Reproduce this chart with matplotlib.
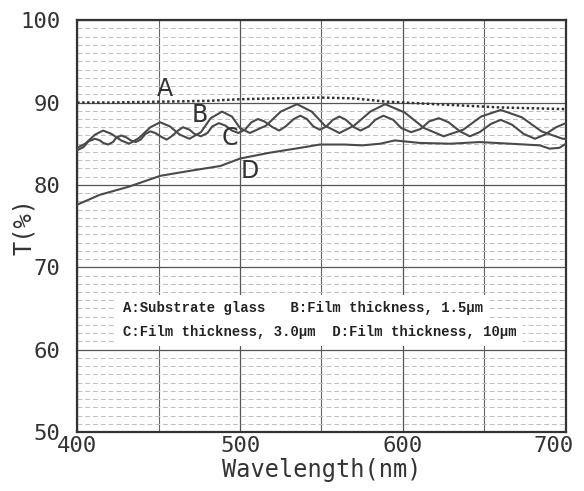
import numpy as np
import matplotlib
matplotlib.use("Agg")
import matplotlib.pyplot as plt
from matplotlib.ticker import MultipleLocator

# curve A : substrate glass (dotted)
A_wl = [400, 420, 450, 480, 500, 520, 550, 570, 590, 610, 630, 660, 700]
A_T = [90.0, 90.0, 90.1, 90.2, 90.4, 90.5, 90.6, 90.5, 90.1, 89.9, 89.7, 89.4, 89.2]

# curve B : film 1.5 um
B_wl = [400, 405, 411, 416, 421, 427, 432, 438, 445, 451, 457, 463, 469, 476, 482,
        489, 495, 500, 506, 516, 525, 535, 544, 552, 561, 570, 580, 589, 601, 613,
        625, 637, 648, 660, 673, 685, 698, 700]
B_T = [84.5, 85.0, 86.1, 86.6, 86.2, 85.4, 85.0, 85.7, 87.0, 87.6, 87.1, 86.1, 85.6,
       86.4, 88.1, 88.9, 88.3, 86.9, 86.3, 87.2, 88.9, 89.8, 88.9, 87.2, 86.3, 87.2,
       88.9, 89.8, 88.8, 86.9, 85.9, 86.7, 88.3, 89.1, 88.2, 86.5, 85.6, 85.6]

# curve C : film 3.0 um
C_wl = [400, 404, 407, 411, 414, 416, 419, 422, 424, 427, 430, 433, 436, 439, 442,
        445, 448, 452, 455, 458, 462, 465, 469, 472, 476, 480, 483, 487, 491, 495,
        499, 503, 507, 511, 515, 520, 524, 528, 533, 537, 541, 545, 549, 553, 557,
        561, 565, 570, 574, 579, 583, 588, 594, 599, 605, 611, 616, 622, 628, 635,
        641, 647, 654, 660, 667, 674, 681, 687, 694, 700]
C_T = [84.2, 84.6, 85.3, 85.6, 85.4, 85.1, 84.9, 85.2, 85.7, 86.0, 85.8, 85.4, 85.2,
       85.5, 86.2, 86.5, 86.3, 85.8, 85.5, 85.9, 86.6, 87.0, 86.7, 86.2, 85.9, 86.3,
       87.1, 87.5, 87.2, 86.6, 86.3, 86.7, 87.6, 88.0, 87.7, 87.0, 86.6, 87.1, 88.0,
       88.4, 88.0, 87.1, 86.7, 87.1, 87.9, 88.3, 87.9, 87.0, 86.6, 87.1, 87.9, 88.4,
       87.9, 86.9, 86.4, 86.8, 87.7, 88.1, 87.6, 86.5, 85.9, 86.4, 87.4, 87.9, 87.3,
       86.2, 85.6, 86.1, 87.0, 87.5]

# curve D : film 10 um
D_wl = [400, 414, 432, 451, 469, 488, 500, 518, 537, 549, 564, 575, 586, 595, 610,
        629, 647, 666, 684, 690, 696, 700]
D_T = [77.6, 78.8, 79.8, 81.1, 81.7, 82.3, 83.2, 83.9, 84.5, 84.9, 84.9, 84.8, 85.0,
       85.4, 85.1, 85.0, 85.2, 85.0, 84.8, 84.4, 84.5, 85.0]

x_ticks = [400, 500, 600, 700]
curve_labels = ["A", "B", "C", "D"]
label_pos = [(454, 91.6), (475, 88.5), (494, 85.7), (506, 81.7)]
legend_lines = ["A:Substrate glass   B:Film thickness, 1.5\u03bcm",
                "C:Film thickness, 3.0\u03bcm  D:Film thickness, 10\u03bcm"]

fig = plt.figure(figsize=(5.84, 4.91), dpi=100)
ax = fig.add_axes([0.132, 0.12, 0.837, 0.839])

ink = "#4a4a4a"
ax.plot(A_wl, A_T, color="#333333", lw=1.8, ls=(0, (1, 1)), zorder=3)
ax.plot(B_wl, B_T, color=ink, lw=1.5, zorder=3)
ax.plot(C_wl, C_T, color=ink, lw=1.5, zorder=3)
ax.plot(D_wl, D_T, color=ink, lw=1.5, zorder=3)

ax.set_xlim(400, 700)
ax.set_ylim(50, 100)
ax.set_xticks(x_ticks)
ax.set_xticklabels([])
ax.yaxis.set_major_locator(MultipleLocator(10))
ax.xaxis.set_minor_locator(MultipleLocator(50))
ax.yaxis.set_minor_locator(MultipleLocator(1))

# scanned-looking grid
ax.grid(which="major", color="#555555", lw=0.9)
ax.grid(which="minor", axis="x", color="#666666", lw=0.8)
ax.grid(which="minor", axis="y", color="#bdbdbd", lw=0.7, ls=(0, (5, 3)))
ax.set_axisbelow(True)
ax.tick_params(which="both", length=0)
ax.tick_params(axis="y", pad=12)
for s in ax.spines.values():
    s.set_color("#333333")
    s.set_linewidth(1.6)

mono = "DejaVu Sans Mono"
for lab in ax.get_yticklabels():
    lab.set_fontfamily(mono)
    lab.set_fontsize(16)
    lab.set_color("#333333")

# x tick labels drawn by hand, the last one nudged left like the scan
for t in x_ticks:
    dx = -9 if t == x_ticks[-1] else 0
    ax.annotate(str(t), (t, 50), xytext=(dx, -3), textcoords="offset points",
                ha="center", va="top", fontfamily=mono, fontsize=16,
                color="#333333", annotation_clip=False)

ax.set_xlabel("Wavelength(nm)", fontfamily=mono, fontsize=17, color="#333333", labelpad=15)
ax.set_ylabel("T(%)", fontfamily=mono, fontsize=17, color="#333333")
ax.yaxis.set_label_coords(-0.085, 0.5)

for lab, (x, y) in zip(curve_labels, label_pos):
    ax.text(x, y, lab, fontsize=17, color="#333333", ha="center", va="center", zorder=4)

ax.text(428, 65.0, legend_lines[0], fontfamily="Liberation Mono", fontweight="bold",
        fontsize=10, color="#222222", va="center", zorder=4,
        bbox=dict(facecolor="white", edgecolor="none", pad=5))
ax.text(428, 62.2, legend_lines[1], fontfamily="Liberation Mono", fontweight="bold",
        fontsize=10, color="#222222", va="center", zorder=4,
        bbox=dict(facecolor="white", edgecolor="none", pad=5))

fig.savefig("out.png", dpi=100)
